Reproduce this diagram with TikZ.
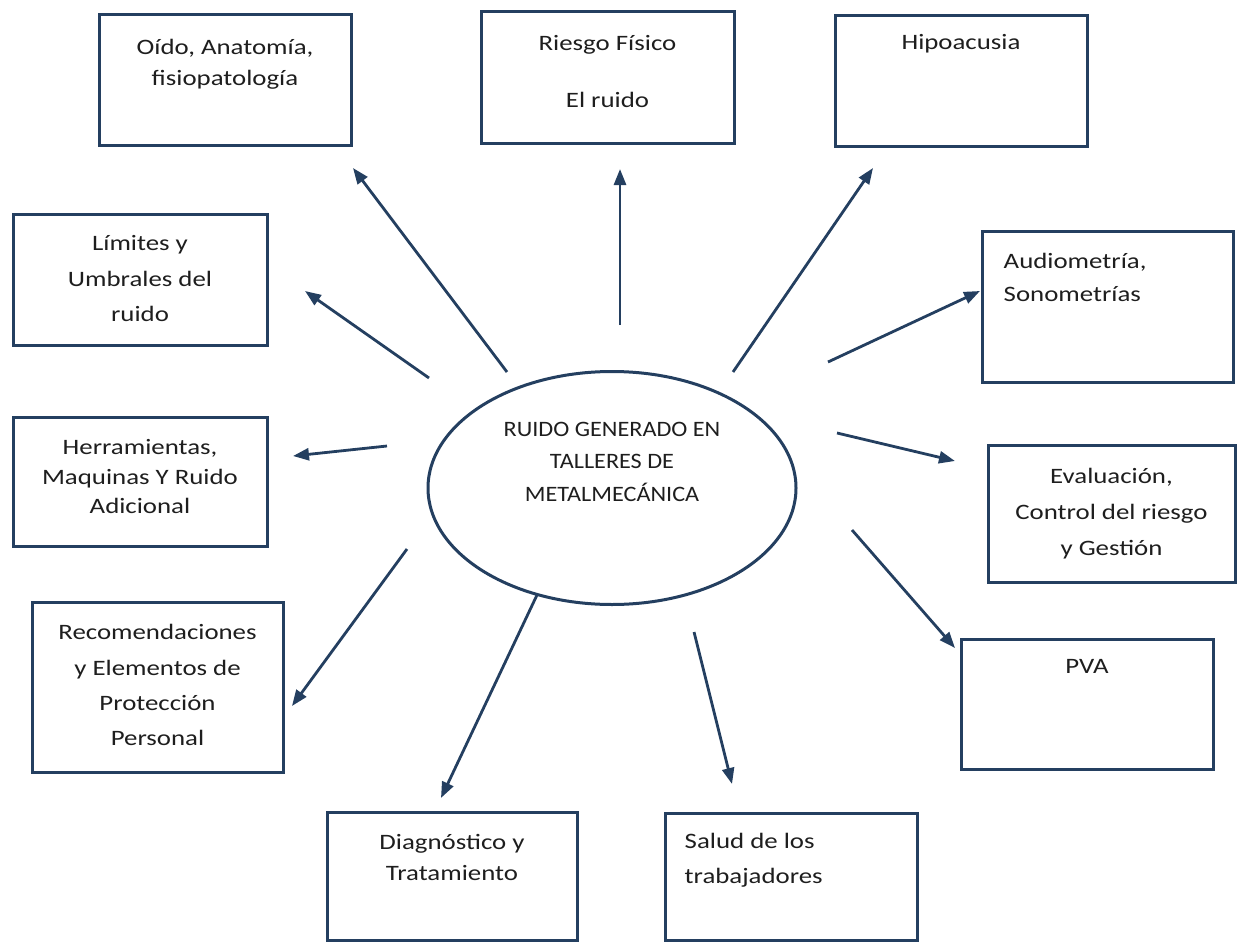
\documentclass[tikz,border=0pt]{standalone}
\usepackage{fontspec}
\setmainfont[FakeStretch=1.22]{Carlito}
\newfontfamily\mayus[FakeStretch=1.1]{Carlito}
\usetikzlibrary{positioning,shapes.geometric,arrows.meta}
\definecolor{azulosc}{RGB}{36,63,96}
\definecolor{tinta}{RGB}{30,30,30}
\newcommand{\primera}{\rule{0pt}{18pt}}

\begin{document}
\begin{tikzpicture}[
                x=1pt, y=-1pt,
                >={Triangle[length=16pt,width=12pt]},
                caja/.style={draw=azulosc, line width=3pt, inner sep=0pt,
                             minimum width=252pt, minimum height=130pt},
                txt/.style={text=tinta, align=center, inner sep=0pt,
                            execute at begin node=\primera},
                lin/.style={font=\fontsize{22}{#1}\selectfont},
                flecha/.style={->, draw=azulosc, line width=2.8pt}
              ]
              \useasboundingbox (0,0) rectangle (1237,942);

              % Centro
              \node[ellipse, draw=azulosc, line width=3pt, minimum width=368pt,
                    minimum height=233pt, inner sep=0pt] (centro) at (612,488) {};
              \node[txt, font={\mayus\fontsize{22}{32.5}\selectfont}, below=52pt of centro.north] (centrot)
                    {RUIDO GENERADO EN\\TALLERES DE\\METALMECÁNICA};

              % Cajas
              \node[caja] (oido) at (225,80) {};
              \node[caja, minimum width=253pt, minimum height=131pt] (riesgo) at (607.5,77.5) {};
              \node[caja] (hipo) at (961,81) {};
              \node[caja, minimum width=254pt, minimum height=131pt] (limites) at (140,279.5) {};
              \node[caja, minimum width=251pt, minimum height=151pt] (audio) at (1107.5,306.5) {};
              \node[caja, minimum width=254pt, minimum height=129pt] (herr) at (140,481.5) {};
              \node[caja, minimum width=247pt, minimum height=137pt] (eval) at (1111.5,513.5) {};
              \node[caja, minimum width=251pt, minimum height=170pt] (recom) at (157.5,687) {};
              \node[caja] (pva) at (1087,704) {};
              \node[caja, minimum width=250pt, minimum height=128pt] (diag) at (452,876) {};
              \node[caja, minimum height=127pt] (salud) at (791,876.5) {};

              % Textos
              \node[txt, lin=31, below=26pt of oido.north] (oidot) {Oído, Anatomía,\\fisiopatología};
              \node[txt, lin=29, below=25pt of riesgo.north] (riesgot) {Riesgo Físico\\[28pt]El ruido};
              \node[txt, lin=30, below=17pt of hipo.north] (hipot) {Hipoacusia};
              \node[txt, lin=35.5, below=23pt of limites.north] (limitest) {Límites y\\Umbrales del\\ruido};
              \node[txt, lin=33, align=left, anchor=north west] (audiot)
                    at ([xshift=23pt,yshift=-24pt]audio.north west) {Audiometría,\\Sonometrías};
              \node[txt, lin=29.5, below=24pt of herr.north] (herrt) {Herramientas,\\Maquinas Y Ruido\\Adicional};
              \node[txt, lin=36, below=25pt of eval.north] (evalt) {Evaluación,\\Control del riesgo\\y Gestión};
              \node[txt, lin=35.3, below=24pt of recom.north] (recomt)
                    {Recomendaciones\\y Elementos de\\Protección\\Personal};
              \node[txt, lin=30, below=18pt of pva.north] (pvat) {PVA};
              \node[txt, lin=31, below=24pt of diag.north] (diagt) {Diagnóstico y\\Tratamiento};
              \node[txt, lin=35, align=left, anchor=north west] (saludt)
                    at ([xshift=21pt,yshift=-22pt]salud.north west) {Salud de los\\trabajadores};

              % Extremos de las flechas
              \coordinate (s1) at (507,372);  \coordinate (t1) at (353,168);
              \coordinate (s2) at (620,325);  \coordinate (t2) at (620,169);
              \coordinate (s3) at (733,372);  \coordinate (t3) at (873,168);
              \coordinate (s4) at (429,378);  \coordinate (t4) at (305,291);
              \coordinate (s5) at (828,362);  \coordinate (t5) at (980,291);
              \coordinate (s6) at (387,446);  \coordinate (t6) at (293,456);
              \coordinate (s7) at (837,433);  \coordinate (t7) at (955,461);
              \coordinate (s8) at (407,549);  \coordinate (t8) at (292,706);
              \coordinate (s9) at (852,530);  \coordinate (t9) at (955,648);
              \coordinate (s10) at (537,595); \coordinate (t10) at (441,798);
              \coordinate (s11) at (694,632); \coordinate (t11) at (732,784);

              % Flechas
              \foreach \i in {1,...,11}
                \draw[flecha] (s\i) -- (t\i);
\end{tikzpicture}
\end{document}
